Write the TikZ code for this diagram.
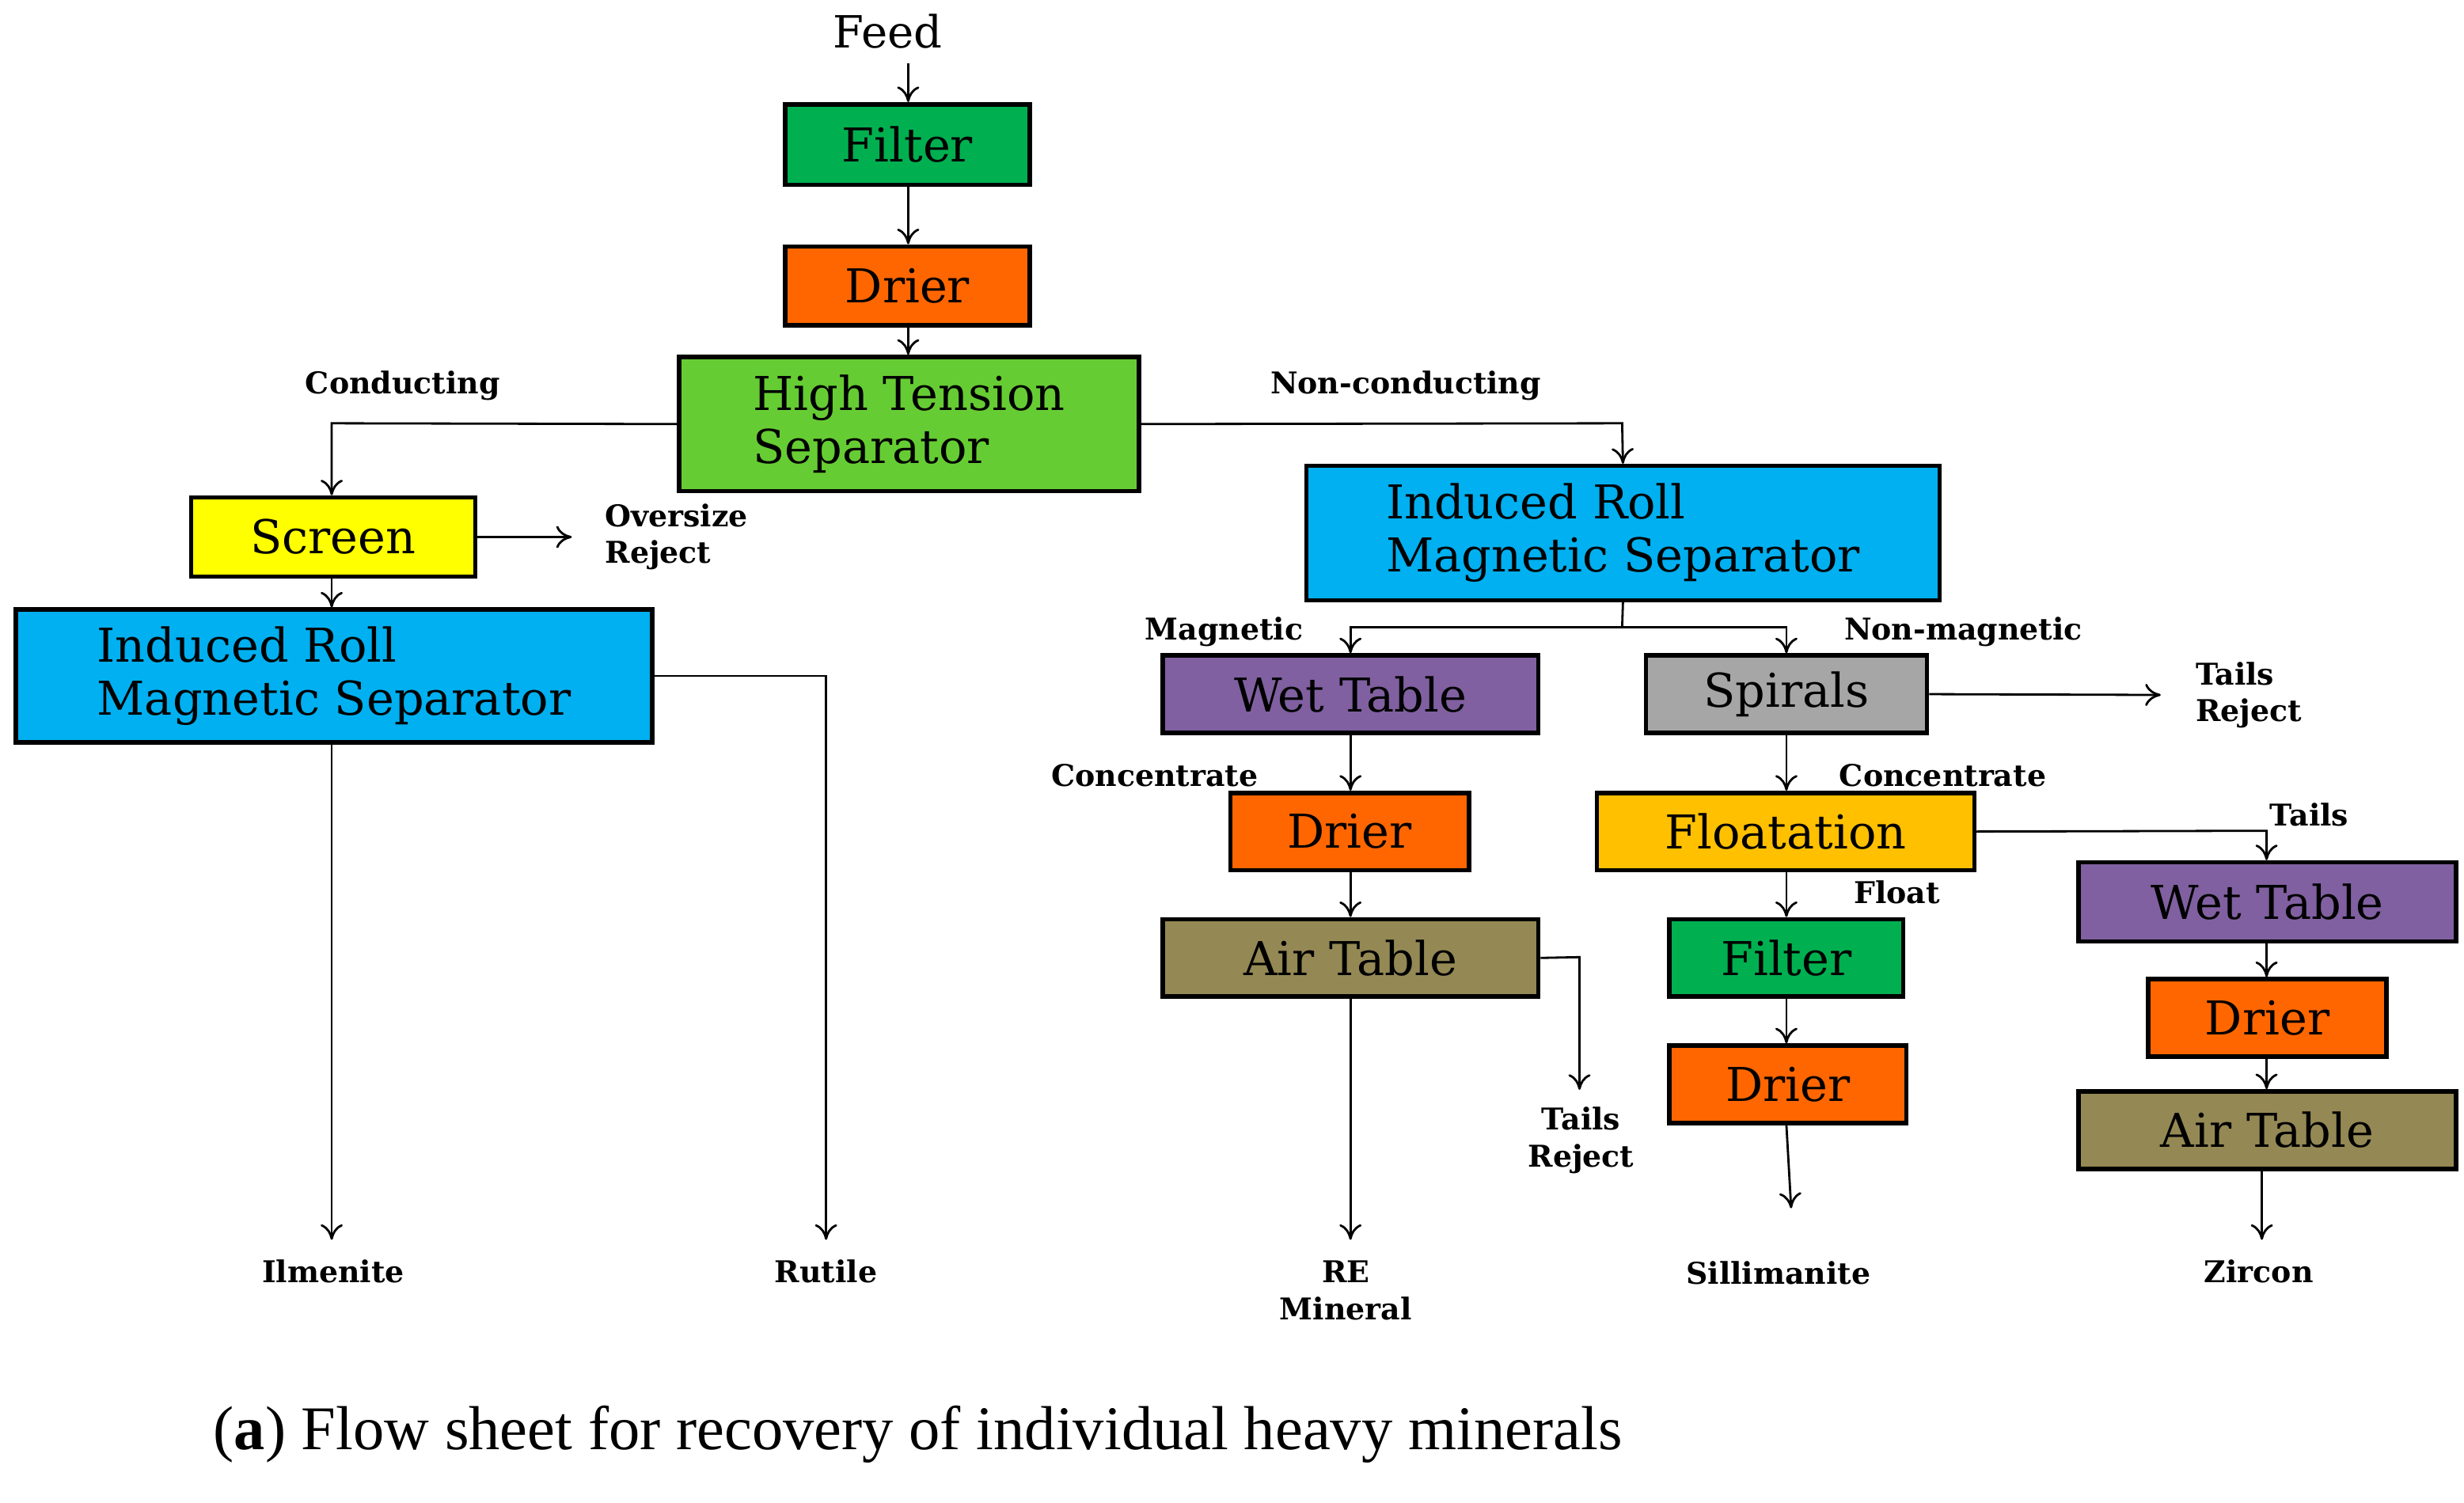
\documentclass[tikz,border=0pt]{standalone}
\usepackage{fontspec}
\setmainfont{Liberation Serif}
\newfontfamily\boxfont{DejaVu Serif}
\newfontfamily\labfont{DejaVu Serif}[BoldFont={DejaVu Serif Bold}]
\usetikzlibrary{arrows.meta}
\definecolor{cgreen}{RGB}{0,176,80}
\definecolor{corange}{RGB}{255,102,0}
\definecolor{clgreen}{RGB}{102,204,51}
\definecolor{cyellow}{RGB}{255,255,0}
\definecolor{ccyan}{RGB}{0,176,240}
\definecolor{cpurple}{RGB}{128,96,160}
\definecolor{cgray}{RGB}{166,166,166}
\definecolor{cgold}{RGB}{255,192,0}
\definecolor{colive}{RGB}{148,136,84}
\newcommand\bx[7]{\node[box,fill=#6,minimum width={(#4-#2)*0.05cm},minimum height={(#5-#3)*0.05cm}] (#1) at ({(#2+#4)/2},{(#3+#5)/2}) {#7};}
\begin{document}
\begin{tikzpicture}[x=0.05cm,y=-0.05cm,
  box/.style={draw=black,line width=4pt,inner sep=0pt,align=left,font=\boxfont\fontsize{42}{48}\selectfont},
  lab/.style={font=\labfont\bfseries\fontsize{27}{33}\selectfont,inner sep=0pt,align=center},
  ar/.style={line width=2pt,-{To[length=14pt,width=20pt]}},
  ln/.style={line width=2pt}]
\useasboundingbox (0,0) rectangle (1560,951.6);
\bx{filter}{497}{66}{652}{117}{cgreen}{Filter}
\bx{drier}{497}{156}{652}{206}{corange}{Drier}
\bx{hts}{430}{226}{721}{311}{clgreen}{High Tension\\Separator}
\bx{screen}{121}{315}{301}{365}{cyellow}{Screen}
\bx{irl}{10}{386}{413}{470}{ccyan}{Induced Roll\\Magnetic Separator}
\bx{irr}{827}{295}{1228}{380}{ccyan}{Induced Roll\\Magnetic Separator}
\bx{wt}{736}{415}{974}{464}{cpurple}{Wet Table}
\bx{sp}{1042}{415}{1220}{464}{cgray}{Spirals}
\bx{dr2}{779}{502}{930}{551}{corange}{Drier}
\bx{fl}{1011}{502}{1250}{551}{cgold}{Floatation}
\bx{at}{736}{582}{974}{631}{colive}{Air Table}
\bx{f2}{1057}{582}{1205}{631}{cgreen}{Filter}
\bx{dr3}{1057}{662}{1207}{711}{corange}{Drier}
\bx{wt2}{1316}{546}{1555}{596}{cpurple}{Wet Table}
\bx{dr4}{1360}{620}{1511}{669}{corange}{Drier}
\bx{at2}{1316}{691}{1555}{740}{colive}{Air Table}
% labels
\node[font=\boxfont\fontsize{40}{44}\selectfont,inner sep=0pt] (feed) at (562,20) {Feed};
\node[lab] (lcond) at (255,244) {Conducting};
\node[lab] (lnc) at (890,244) {Non-conducting};
\node[lab,align=left,anchor=west] (lover) at (383,340) {Oversize\\Reject};
\node[lab] (lilm) at (211,805) {Ilmenite};
\node[lab] (lrut) at (523,805) {Rutile};
\node[lab] (lmag) at (775,400) {Magnetic};
\node[lab] (lnm) at (1243,400) {Non-magnetic};
\node[lab,align=left,anchor=west] (ltr1) at (1390,440) {Tails\\Reject};
\node[lab] (lc1) at (731,491) {Concentrate};
\node[lab] (lc2) at (1230,491) {Concentrate};
\node[lab] (ltr2) at (1001,722) {Tails\\Reject};
\node[lab] (lre) at (852,817) {RE\\Mineral};
\node[lab] (ltails) at (1462,516) {Tails};
\node[lab] (lfloat) at (1201,565) {Float};
\node[lab] (lsil) at (1126,806) {Sillimanite};
\node[lab] (lzir) at (1430,805) {Zircon};
\node[anchor=west,inner sep=0pt,font=\fontsize{56}{60}\selectfont] (cap) at (135,908) {(\textbf{a}) Flow sheet for recovery of individual heavy minerals};
% coordinates
\coordinate (feedb) at (575,40);
\coordinate (oe) at (362,340);
\coordinate (ilmt) at (210,785);
\coordinate (rutt) at (523,785);
\coordinate (spe) at (1368,440);
\coordinate (atre) at (1000,690);
\coordinate (ret) at (855,785);
\coordinate (silt) at (1134,765);
\coordinate (zirt) at (1432,785);
% connectors
\draw[ar] (feedb) -- (filter.north -| feedb);
\draw[ar] (filter.south -| feedb) -- (drier.north -| feedb);
\draw[ar] (drier.south -| feedb) -- (hts.north -| feedb);
\draw[ar] (hts.west) -- (210,268) -- (screen.north -| 210,0);
\draw[ar] (hts.east) -- (1027,268) -- (irr.north);
\draw[ar] (screen.east) -- (oe);
\draw[ar] (screen.south -| 210,0) -- (irl.north -| 210,0);
\draw[ar] (irl.south -| 210,0) -- (ilmt);
\draw[ar] (413,428) -- (523,428) -- (rutt);
\draw[ln] (irr.south) -- (1027,397);
\draw[ar] (1027,397) -- (855,397) -- (wt.north -| 855,0);
\draw[ar] (1027,397) -- (1131,397) -- (sp.north -| 1131,0);
\draw[ar] (sp.east) -- (spe);
\draw[ar] (wt.south -| 855,0) -- (dr2.north -| 855,0);
\draw[ar] (sp.south -| 1131,0) -- (fl.north -| 1131,0);
\draw[ar] (dr2.south -| 855,0) -- (at.north -| 855,0);
\draw[ar] (at.east) -- (1000,606) -- (atre);
\draw[ar] (at.south -| 855,0) -- (ret);
\draw[ar] (fl.east) -- (1435,526) -- (wt2.north -| 1435,0);
\draw[ar] (fl.south -| 1131,0) -- (f2.north -| 1131,0);
\draw[ar] (f2.south -| 1131,0) -- (dr3.north -| 1131,0);
\draw[ar] (dr3.south -| 1131,0) -- (silt);
\draw[ar] (wt2.south -| 1435,0) -- (dr4.north -| 1435,0);
\draw[ar] (dr4.south -| 1435,0) -- (at2.north -| 1435,0);
\draw[ar] (at2.south -| 1432,0) -- (zirt);
\end{tikzpicture}
\end{document}
